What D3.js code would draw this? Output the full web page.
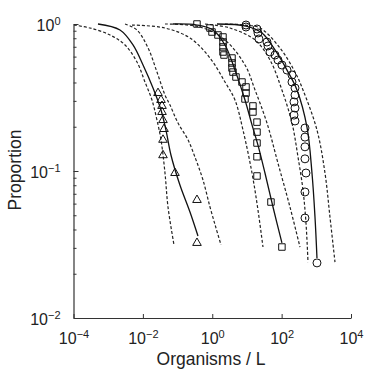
<!DOCTYPE html>
<html>
<head>
<meta charset="utf-8">
<script src="https://cdn.jsdelivr.net/npm/d3@7"></script>
<style>
  body { margin: 0; background: #fff; }
  text { font-family: "Liberation Sans", Arial, sans-serif; fill: #222; }
</style>
</head>
<body>
<svg id="chart" width="365" height="373"></svg>
<script>
// tick values
var xTicks = [1e-4, 1e-2, 1, 1e2, 1e4];
var yTicks = [1e-2, 1e-1, 1];

// triangles: data points + fit (solid) + bounds (dashed)
var triPoints = [[0.0273, 0.339], [0.0333, 0.304], [0.0356, 0.277], [0.0356, 0.252], [0.038, 0.222],
  [0.0407, 0.193], [0.038, 0.163], [0.038, 0.128], [0.0843, 0.0969], [0.363, 0.0635], [0.363, 0.0324]];
var triSolid = [[5.08e-4, 1.0], [2.19e-3, 0.91], [5.19e-3, 0.72], [0.0101, 0.526], [0.0196, 0.367],
  [0.0333, 0.26], [0.0463, 0.19], [0.0647, 0.128], [0.117, 0.0803], [0.228, 0.0526], [0.388, 0.0361]];
var triLow = [[1.03e-4, 0.984], [2.99e-4, 0.939], [1.13e-3, 0.842], [3.06e-3, 0.72], [6.76e-3, 0.551],
  [0.0115, 0.403], [0.0183, 0.304], [0.0255, 0.222], [0.0333, 0.163], [0.0434, 0.0969], [0.053, 0.0569], [0.0789, 0.0314]];
var triHigh = [[3.06e-3, 1.0], [6.76e-3, 0.91], [0.0141, 0.687], [0.0255, 0.471], [0.0434, 0.329],
  [0.0605, 0.281], [0.103, 0.212], [0.2, 0.163], [0.34, 0.119], [0.541, 0.0869], [0.861, 0.0569], [1.28, 0.041], [1.79, 0.0314]];

// squares
var sqPoints = [[0.363, 1.0], [0.861, 0.939], [0.984, 0.882], [1.46, 0.842], [2.04, 0.816], [2.04, 0.754],
  [2.04, 0.698], [2.04, 0.645], [2.18, 0.615], [3.71, 0.587], [3.71, 0.543], [3.71, 0.502], [3.96, 0.471],
  [4.83, 0.436], [7.2, 0.403], [9.4, 0.373], [9.4, 0.339], [8.79, 0.309], [14.9, 0.277], [14.9, 0.252],
  [19.5, 0.215], [19.5, 0.184], [19.5, 0.155], [19.5, 0.125], [19.5, 0.0925], [49.3, 0.0615], [102, 0.0304]];
var sqSolid = [[0.0738, 1.0], [0.363, 0.984], [1.05, 0.91], [2.33, 0.72], [4.52, 0.486], [8.79, 0.304],
  [14.0, 0.206], [20.8, 0.15], [33.1, 0.0969], [56.4, 0.0569], [102, 0.0324]];
var sqLow = [[4.85e-3, 0.984], [0.0434, 0.939], [0.228, 0.803], [0.861, 0.587], [2.33, 0.403], [4.52, 0.304],
  [7.69, 0.19], [14.0, 0.0969], [20.8, 0.0543], [29.0, 0.0304]];
var sqHigh = [[0.0434, 1.0], [0.444, 0.954], [2.33, 0.778], [8.79, 0.526], [17.1, 0.356], [37.8, 0.212],
  [78.5, 0.113], [174, 0.0569], [338, 0.0304]];

// circles
var ciPoints = [[9.4, 0.984], [9.4, 0.954], [19.5, 0.925], [20.8, 0.869], [22.2, 0.791], [37.8, 0.754],
  [40.5, 0.709], [46.2, 0.645], [64.4, 0.615], [78.5, 0.569], [102, 0.526], [143, 0.486], [199, 0.45],
  [199, 0.403], [243, 0.367], [243, 0.329], [227, 0.295], [243, 0.268], [227, 0.24], [243, 0.219],
  [471, 0.196], [471, 0.17], [471, 0.146], [471, 0.121], [504, 0.0969], [471, 0.072], [471, 0.0479], [1045, 0.0237]];
var ciSolid = [[1.37, 1.0], [9.4, 0.969], [27.2, 0.869], [64.4, 0.666], [143, 0.486], [277, 0.356],
  [538, 0.199], [750, 0.0969], [916, 0.0486], [1045, 0.0256]];
var ciLow = [[0.618, 1.0], [3.24, 0.939], [17.1, 0.778], [46.2, 0.569], [102, 0.356], [199, 0.212],
  [296, 0.125], [413, 0.0743], [504, 0.0443], [576, 0.024]];
var ciHigh = [[2.33, 1.0], [8.79, 0.984], [23.8, 0.939], [89.7, 0.687], [243, 0.471], [413, 0.356],
  [1045, 0.19], [1778, 0.0969], [2477, 0.0486], [3453, 0.024]];

var svg = d3.select('#chart');
var padL = 73.5, padR = 351, padT = 24, padB = 318;

var x = d3.scaleLog().domain([1e-4, 1e4]).range([padL, padR]);
var y = d3.scaleLog().domain([1e-2, 1]).range([padB, padT]);

function sup(sel) {
  sel.each(function (d) {
    var t = d3.select(this);
    var e = Math.round(Math.log10(d));
    t.text(null);
    t.append('tspan').text('10');
    t.append('tspan').attr('dy', '-0.55em').attr('font-size', '11px').text(e < 0 ? '\u2212' + (-e) : e);
  });
}

// minor y ticks
var yMinor = [];
[0.01, 0.1].forEach(function (b) { for (var k = 2; k <= 9; k++) yMinor.push(b * k); });
svg.append('g')
  .attr('transform', 'translate(' + padL + ',0)')
  .call(d3.axisLeft(y).tickValues(yMinor).tickSize(-3).tickSizeOuter(0).tickFormat(''))
  .call(function (g) { g.select('.domain').remove(); g.selectAll('line').attr('stroke', '#333'); });

var yAxis = svg.append('g')
  .attr('transform', 'translate(' + padL + ',0)')
  .call(d3.axisLeft(y).tickValues(yTicks).tickSize(-5).tickSizeOuter(0).tickPadding(13));
yAxis.selectAll('text').attr('font-size', '16px').attr('dy', '0.4em').call(sup);

var xAxis = svg.append('g')
  .attr('transform', 'translate(0,' + padB + ')')
  .call(d3.axisBottom(x).tickValues(xTicks).tickSize(-4).tickSizeOuter(0).tickPadding(12));
xAxis.selectAll('text').attr('font-size', '16px').attr('dy', '0.85em').call(sup);

[yAxis, xAxis].forEach(function (g) {
  g.select('.domain').attr('stroke', '#333').attr('stroke-width', 1.2);
  g.selectAll('line').attr('stroke', '#333');
});

svg.append('text').attr('x', 211).attr('y', 365).attr('text-anchor', 'middle')
  .attr('font-size', '17.5px').text('Organisms / L');
svg.append('text').attr('transform', 'translate(21,170) rotate(-90)').attr('text-anchor', 'middle')
  .attr('font-size', '17.5px').text('Proportion');

var line = d3.line()
  .x(function (d) { return x(d[0]); })
  .y(function (d) { return y(d[1]); })
  .curve(d3.curveCatmullRom.alpha(0.5));

var plot = svg.append('g');
[triLow, triHigh, sqLow, sqHigh, ciLow, ciHigh].forEach(function (s) {
  plot.append('path').attr('d', line(s)).attr('fill', 'none')
    .attr('stroke', '#222').attr('stroke-width', 1.2).attr('stroke-dasharray', '3,2');
});
[triSolid, sqSolid, ciSolid].forEach(function (s) {
  plot.append('path').attr('d', line(s)).attr('fill', 'none')
    .attr('stroke', '#111').attr('stroke-width', 1.3);
});

var symTri = d3.symbol().type(d3.symbolTriangle).size(32);
var symSq = d3.symbol().type(d3.symbolSquare).size(42);

plot.selectAll('.tri').data(triPoints).join('path')
  .attr('d', symTri)
  .attr('transform', function (d) { return 'translate(' + x(d[0]) + ',' + y(d[1]) + ')'; })
  .attr('fill', 'none').attr('stroke', '#111').attr('stroke-width', 1);
plot.selectAll('.sq').data(sqPoints).join('path')
  .attr('d', symSq)
  .attr('transform', function (d) { return 'translate(' + x(d[0]) + ',' + y(d[1]) + ')'; })
  .attr('fill', 'none').attr('stroke', '#111').attr('stroke-width', 1);
plot.selectAll('.ci').data(ciPoints).join('circle')
  .attr('cx', function (d) { return x(d[0]); })
  .attr('cy', function (d) { return y(d[1]); })
  .attr('r', 4)
  .attr('fill', 'none').attr('stroke', '#111').attr('stroke-width', 1);
</script>
</body>
</html>
